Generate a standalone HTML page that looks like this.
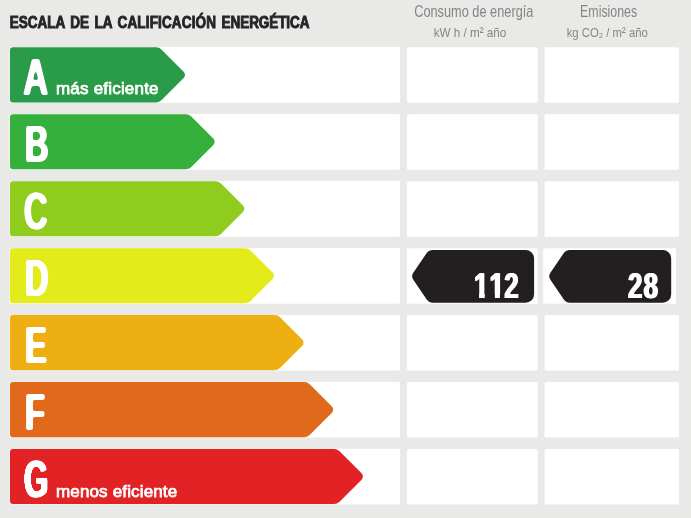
<!DOCTYPE html>
<html lang="es"><head><meta charset="utf-8"><title>Escala de la calificación energética</title>
<style>
html,body{margin:0;padding:0;background:#e9e9e7;}
#c{position:relative;width:691px;height:518px;overflow:hidden;background:#e9e9e7;font-family:"Liberation Sans",sans-serif}
svg{display:block;position:absolute;left:0;top:0}
svg text{font-family:"Liberation Sans",sans-serif}
.L,.N{font-kerning:none;position:absolute;white-space:nowrap;line-height:1;font-weight:bold;color:#fff;margin:0}
.L{filter:url(#rnd);transform-origin:0 0;transform:scaleX(0.636);font-size:51.3px;-webkit-text-stroke:0px #fff;text-shadow:1.5px 0 0 #fff,-1.5px 0 0 #fff}
.N{transform-origin:0 0;transform:scaleX(0.72) rotate(0.03deg);font-size:35.9px;-webkit-text-stroke:0px #fff;text-shadow:1.14px 0 0 #fff,-1.14px 0 0 #fff;letter-spacing:1.85px}
.N i{position:absolute;display:block;background:#231f20}
</style></head><body><div id="c">
<svg width="691" height="518" viewBox="0 0 691 518">
<defs><filter id="rnd" x="-10%" y="-10%" width="120%" height="120%" color-interpolation-filters="sRGB"><feGaussianBlur stdDeviation="1.3 0.9" result="b"/><feComponentTransfer><feFuncA type="linear" slope="3.4" intercept="-1.2"/></feComponentTransfer></filter></defs>
<rect width="691" height="518" fill="#e9e9e7"/>
<rect x="9.6" y="47.10" width="390.5" height="55.70" rx="2" fill="#fff"/>
<rect x="407" y="47.30" width="130.6" height="55.50" rx="1.5" fill="#fff"/>
<rect x="544.5" y="47.30" width="134.50" height="55.50" rx="1.5" fill="#fff"/>
<rect x="9.6" y="114.05" width="390.5" height="55.70" rx="2" fill="#fff"/>
<rect x="407" y="114.25" width="130.6" height="55.50" rx="1.5" fill="#fff"/>
<rect x="544.5" y="114.25" width="134.50" height="55.50" rx="1.5" fill="#fff"/>
<rect x="9.6" y="181.00" width="390.5" height="55.70" rx="2" fill="#fff"/>
<rect x="407" y="181.20" width="130.6" height="55.50" rx="1.5" fill="#fff"/>
<rect x="544.5" y="181.20" width="134.50" height="55.50" rx="1.5" fill="#fff"/>
<rect x="9.6" y="247.95" width="390.5" height="55.70" rx="2" fill="#fff"/>
<rect x="407" y="248.15" width="130.6" height="55.50" rx="1.5" fill="#fff"/>
<rect x="543.2" y="248.15" width="132.80" height="55.50" rx="1.5" fill="#fff"/>
<rect x="9.6" y="314.90" width="390.5" height="55.70" rx="2" fill="#fff"/>
<rect x="407" y="315.10" width="130.6" height="55.50" rx="1.5" fill="#fff"/>
<rect x="544.5" y="315.10" width="134.50" height="55.50" rx="1.5" fill="#fff"/>
<rect x="9.6" y="381.85" width="390.5" height="55.70" rx="2" fill="#fff"/>
<rect x="407" y="382.05" width="130.6" height="55.50" rx="1.5" fill="#fff"/>
<rect x="544.5" y="382.05" width="134.50" height="55.50" rx="1.5" fill="#fff"/>
<rect x="9.6" y="448.80" width="390.5" height="55.70" rx="2" fill="#fff"/>
<rect x="407" y="449.00" width="130.6" height="55.50" rx="1.5" fill="#fff"/>
<rect x="544.5" y="449.00" width="134.50" height="55.50" rx="1.5" fill="#fff"/>
<path d="M10.00 50.30A3 3 0 0 1 13.00 47.30L156.00 47.30A8 8 0 0 1 161.66 49.64L183.68 71.67A4.5 4.5 0 0 1 183.68 78.03L161.66 100.06A8 8 0 0 1 156.00 102.40L13.00 102.40A3 3 0 0 1 10.00 99.40Z" fill="#2a9b48"/>
<path d="M10.00 117.25A3 3 0 0 1 13.00 114.25L185.65 114.25A8 8 0 0 1 191.31 116.59L213.33 138.62A4.5 4.5 0 0 1 213.33 144.98L191.31 167.01A8 8 0 0 1 185.65 169.35L13.00 169.35A3 3 0 0 1 10.00 166.35Z" fill="#35b03d"/>
<path d="M10.00 184.20A3 3 0 0 1 13.00 181.20L215.30 181.20A8 8 0 0 1 220.96 183.54L242.98 205.57A4.5 4.5 0 0 1 242.98 211.93L220.96 233.96A8 8 0 0 1 215.30 236.30L13.00 236.30A3 3 0 0 1 10.00 233.30Z" fill="#8fcc1e"/>
<path d="M10.00 251.15A3 3 0 0 1 13.00 248.15L244.95 248.15A8 8 0 0 1 250.61 250.49L272.63 272.52A4.5 4.5 0 0 1 272.63 278.88L250.61 300.91A8 8 0 0 1 244.95 303.25L13.00 303.25A3 3 0 0 1 10.00 300.25Z" fill="#e3eb1b"/>
<path d="M10.00 318.10A3 3 0 0 1 13.00 315.10L274.60 315.10A8 8 0 0 1 280.26 317.44L302.28 339.47A4.5 4.5 0 0 1 302.28 345.83L280.26 367.86A8 8 0 0 1 274.60 370.20L13.00 370.20A3 3 0 0 1 10.00 367.20Z" fill="#eeaf12"/>
<path d="M10.00 385.05A3 3 0 0 1 13.00 382.05L304.25 382.05A8 8 0 0 1 309.91 384.39L331.93 406.42A4.5 4.5 0 0 1 331.93 412.78L309.91 434.81A8 8 0 0 1 304.25 437.15L13.00 437.15A3 3 0 0 1 10.00 434.15Z" fill="#e0691c"/>
<path d="M10.00 452.00A3 3 0 0 1 13.00 449.00L333.90 449.00A8 8 0 0 1 339.56 451.34L361.58 473.37A4.5 4.5 0 0 1 361.58 479.73L339.56 501.76A8 8 0 0 1 333.90 504.10L13.00 504.10A3 3 0 0 1 10.00 501.10Z" fill="#e32226"/>
<text x="56" y="93.5" font-size="17" letter-spacing="0.2" fill="#fff" stroke="#fff" stroke-width="0.75">más eficiente</text>
<text x="56" y="496.5" font-size="17" letter-spacing="0.15" fill="#fff" stroke="#fff" stroke-width="0.75">menos eficiente</text>
<text transform="translate(9.7 27.5) scale(0.816 1)" font-size="16.6" font-weight="bold" word-spacing="2.1" fill="#252525" stroke="#252525" stroke-width="0.95">ESCALA DE LA <tspan letter-spacing="0.17">CALIFICACIÓN</tspan> <tspan letter-spacing="-0.1">ENERGÉTICA</tspan></text>
<text transform="translate(473.8 16.8) scale(0.784 1)" text-anchor="middle" font-size="16.3" fill="#858585">Consumo de energía</text>
<text transform="translate(470 36.7) scale(0.86 1)" text-anchor="middle" font-size="13.6" fill="#858585">kW h / m² año</text>
<text transform="translate(608.6 16.8) scale(0.759 1)" text-anchor="middle" font-size="16.3" fill="#858585">Emisiones</text>
<text transform="translate(607.2 36.7) scale(0.833 1)" text-anchor="middle" font-size="13.6" fill="#858585">kg CO₂ / m² año</text>
<path d="M413.30 279.84A6.3 6.3 0 0 1 413.30 272.76L426.87 252.75A6.5 6.5 0 0 1 432.25 249.90L525.60 249.90A8.5 8.5 0 0 1 534.10 258.40L534.10 294.20A8.5 8.5 0 0 1 525.60 302.70L432.25 302.70A6.5 6.5 0 0 1 426.87 299.85Z" fill="#231f20"/>
<path d="M550.40 279.84A6.3 6.3 0 0 1 550.40 272.76L563.97 252.75A6.5 6.5 0 0 1 569.35 249.90L662.70 249.90A8.5 8.5 0 0 1 671.20 258.40L671.20 294.20A8.5 8.5 0 0 1 662.70 302.70L569.35 302.70A6.5 6.5 0 0 1 563.97 299.85Z" fill="#231f20"/>
</svg>
<div class="L" style="left:23.30px;top:51.57px;transform:scaleX(0.685);text-shadow:1px 0 0 #fff,-1px 0 0 #fff">A</div>
<div class="L" style="left:24.70px;top:118.57px">B</div>
<div class="L" style="left:23.80px;top:185.57px">C</div>
<div class="L" style="left:24.70px;top:252.57px">D</div>
<div class="L" style="left:24.70px;top:319.57px">E</div>
<div class="L" style="left:24.70px;top:386.57px">F</div>
<div class="L" style="left:23.80px;top:453.57px;transform:scaleX(0.61)">G</div>
<div class="N" style="left:474.00px;top:269.00px">1<span style="letter-spacing:0.25px">1</span>2<i style="left:-0.08px;top:24.84px;width:7.22px;height:4.96px"></i><i style="left:14.54px;top:24.84px;width:14.41px;height:4.96px"></i><i style="left:36.36px;top:24.84px;width:5.57px;height:4.96px"></i></div>
<div class="N" style="left:627.60px;top:269.00px">28</div>
</div></body></html>
